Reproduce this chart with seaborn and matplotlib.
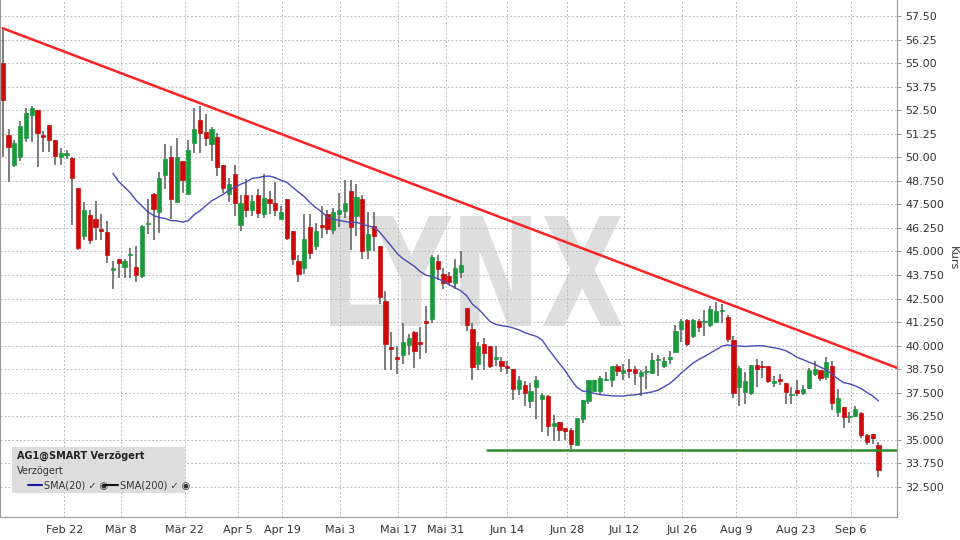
import numpy as np
import pandas as pd
import seaborn as sns
import matplotlib.pyplot as plt
from matplotlib.patches import Rectangle, PathPatch
from matplotlib.textpath import TextPath
from matplotlib.font_manager import FontProperties
from matplotlib.transforms import Affine2D, IdentityTransform

# daily candles (price in EUR)
opens = [55.0, 51.2, 49.6, 50.04, 51.04, 52.25, 52.5, 51.2, 51.7, 50.9,
         50.04, 50.1, 49.95, 48.36, 45.83, 46.94, 46.7, 46.2, 46.02, 44.0,
         44.6, 44.2, 44.8, 44.2, 43.67, 46.45, 48.05, 47.1, 49.06, 50.0,
         47.6, 49.8, 48.05, 50.74, 51.98, 51.36, 50.7, 51.1, 49.6, 48.05,
         49.1, 46.4, 48.0, 47.2, 48.0, 47.0, 47.8, 47.56, 46.7, 47.77,
         46.1, 44.5, 44.1, 46.3, 45.3, 46.4, 47.0, 46.14, 47.0, 47.17,
         48.2, 46.9, 47.8, 45.08, 46.37, 45.3, 42.37, 39.9, 39.4, 39.5,
         40.04, 40.7, 40.2, 41.3, 41.4, 44.5, 43.8, 43.7, 43.3, 43.9,
         42.0, 40.9, 39.03, 40.1, 39.98, 39.3, 39.2, 38.94, 38.75, 37.7,
         37.9, 37.08, 37.8, 37.15, 37.35, 35.75, 35.93, 35.6, 35.52, 34.7,
         36.1, 37.06, 37.6, 37.6, 38.15, 38.2, 38.9, 38.53, 38.75, 38.75,
         38.4, 38.6, 38.55, 39.24, 38.93, 39.3, 39.68, 40.9, 41.36, 40.5,
         41.33, 41.25, 41.1, 41.27, 41.85, 41.54, 40.3, 37.8, 37.56, 37.47,
         38.97, 38.9, 38.9, 38.0, 38.23, 38.0, 37.36, 37.65, 37.5, 37.74,
         38.5, 38.7, 38.35, 38.9, 36.5, 36.76, 36.2, 36.27, 36.4, 35.26,
         35.3, 34.73]
closes = [53.05, 50.57, 50.74, 51.66, 52.37, 52.6, 51.27, 51.1, 50.9, 50.07,
          50.2, 50.2, 48.9, 45.17, 47.2, 45.6, 46.3, 46.1, 44.8, 44.1,
          44.4, 44.5, 44.8, 43.75, 46.35, 46.5, 47.25, 48.9, 49.9, 47.8,
          50.0, 48.8, 50.4, 51.5, 51.27, 51.0, 51.5, 49.5, 48.35, 48.6,
          47.56, 47.56, 47.2, 47.7, 47.06, 47.86, 47.56, 47.2, 47.07, 45.7,
          44.6, 43.8, 45.65, 44.94, 46.1, 46.3, 46.2, 47.1, 47.2, 47.56,
          46.3, 47.9, 45.04, 45.9, 45.8, 42.6, 40.1, 39.8, 39.3, 40.2,
          40.4, 39.7, 40.1, 41.2, 44.7, 44.05, 43.3, 43.4, 44.1, 44.3,
          41.1, 38.85, 39.98, 39.6, 38.92, 39.4, 38.92, 38.83, 37.7, 38.2,
          37.47, 37.6, 38.2, 37.4, 35.75, 35.88, 35.5, 35.45, 34.8, 36.15,
          37.1, 38.2, 38.2, 38.3, 38.2, 38.9, 38.66, 38.7, 38.67, 38.53,
          38.6, 38.6, 39.24, 39.3, 39.2, 39.4, 40.8, 41.3, 40.1, 41.36,
          41.0, 41.3, 41.93, 41.84, 41.9, 40.34, 37.47, 38.8, 38.1, 38.97,
          38.75, 38.85, 38.1, 38.1, 38.1, 37.56, 37.45, 37.47, 37.7, 38.7,
          38.75, 38.27, 39.15, 36.94, 37.2, 36.23, 36.25, 36.62, 35.26, 34.87,
          35.1, 33.4]
highs = [56.85, 51.49, 50.9, 51.9, 52.6, 52.7, 52.5, 51.4, 51.7, 50.9,
         50.5, 50.4, 50.0, 48.36, 47.6, 47.2, 47.7, 47.0, 46.6, 44.5,
         44.6, 44.6, 45.2, 45.3, 46.4, 47.8, 48.1, 49.2, 50.7, 50.6,
         51.0, 49.8, 50.9, 52.6, 52.7, 52.3, 51.6, 51.3, 49.6, 48.9,
         49.6, 48.0, 48.85, 48.0, 48.3, 49.1, 48.2, 48.7, 47.4, 47.77,
         46.1, 44.8, 47.0, 47.0, 46.5, 47.4, 47.2, 47.3, 48.1, 48.8,
         48.8, 48.6, 48.0, 47.1, 47.1, 45.3, 42.9, 40.7, 40.0, 41.2,
         40.6, 40.8, 41.0, 42.1, 44.8, 44.8, 44.1, 43.9, 44.6, 45.0,
         42.0, 41.2, 40.2, 40.4, 40.0, 40.0, 39.4, 39.2, 38.75, 38.4,
         38.1, 38.0, 38.4, 37.5, 37.4, 36.3, 35.93, 35.6, 35.6, 36.15,
         37.1, 38.2, 38.2, 38.4, 38.6, 38.9, 39.0, 39.0, 39.3, 38.9,
         38.7, 38.9, 39.6, 39.5, 39.4, 39.7, 41.1, 41.4, 41.4, 41.4,
         41.4, 41.9, 42.1, 42.3, 42.2, 41.6, 40.5, 38.9, 38.6, 38.97,
         39.3, 39.2, 38.9, 38.4, 38.5, 38.0, 37.8, 38.2, 37.9, 38.8,
         39.2, 38.7, 39.4, 39.2, 37.7, 36.76, 36.5, 36.8, 36.5, 35.3,
         35.3, 34.9]
lows = [50.04, 48.7, 49.5, 49.8, 50.8, 50.8, 49.5, 50.3, 50.3, 49.6,
        49.6, 49.9, 46.4, 45.1, 45.6, 45.4, 45.6, 45.6, 44.4, 43.0,
        43.6, 43.6, 43.6, 43.4, 43.6, 45.9, 45.6, 46.0, 48.3, 46.7,
        47.6, 48.1, 48.05, 50.2, 50.2, 50.6, 49.8, 49.0, 48.1, 47.6,
        46.9, 46.1, 46.85, 46.9, 46.8, 46.8, 47.0, 46.9, 46.7, 45.6,
        44.3, 43.4, 43.8, 44.6, 45.1, 45.7, 45.9, 45.9, 46.3, 46.8,
        45.1, 45.8, 44.6, 44.6, 45.0, 42.2, 38.7, 38.7, 38.5, 39.0,
        39.5, 38.8, 39.3, 39.6, 41.2, 43.5, 43.0, 43.2, 43.0, 43.6,
        40.8, 38.2, 38.7, 38.7, 38.8, 38.9, 38.6, 38.5, 37.1, 37.4,
        36.8, 36.7, 36.1, 35.4, 35.2, 34.95, 34.95, 35.0, 34.5, 34.7,
        35.9, 36.9, 37.6, 37.4, 38.1, 37.8, 38.4, 38.2, 38.3, 37.9,
        37.3, 37.7, 38.5, 38.4, 38.8, 39.0, 39.6, 40.2, 40.0, 40.4,
        40.7, 40.5, 41.0, 41.2, 41.2, 40.2, 37.2, 36.8, 36.9, 37.4,
        37.8, 38.3, 38.0, 37.8, 37.9, 36.9, 36.9, 37.3, 37.4, 37.7,
        38.4, 38.1, 38.2, 36.6, 36.2, 35.6, 35.9, 36.2, 35.1, 34.7,
        34.8, 33.0]

date_labels = ["Feb 22", "Mär 8", "Mär 22", "Apr 5", "Apr 19", "Mai 3", "Mai 17",
               "Mai 31", "Jun 14", "Jun 28", "Jul 12", "Jul 26", "Aug 9", "Aug 23", "Sep 6"]
date_pos = [10.6, 20.4, 31.4, 40.6, 48.2, 58.2, 68.2, 76.4, 86.9, 97.3,
            107.1, 117.1, 126.4, 136.8, 146.3]

y_ticks = [57.5, 56.25, 55.0, 53.75, 52.5, 51.25, 50.0, 48.75, 47.5, 46.25,
           45.0, 43.75, 42.5, 41.25, 40.0, 38.75, 37.5, 36.25, 35.0, 33.75, 32.5]
y_labels = ["57.50", "56.25", "55.00", "53.75", "52.50", "51.25", "50.00",
            "48.750", "47.500", "46.250", "45.000", "43.750", "42.500", "41.250",
            "40.000", "38.750", "37.500", "36.250", "35.000", "33.750", "32.500"]

# trend line (resistance) and support line
trend_x = [0, 154.2]
trend_y = [56.85, 38.82]
support_x = [83.5, 154.2]
support_y = [34.46, 34.46]

df = pd.DataFrame({"open": opens, "close": closes, "high": highs, "low": lows})
df["idx"] = np.arange(len(df))
df["sma20"] = df["close"].rolling(20).mean()

sns.set_style("white")
fig = plt.figure(figsize=(9.6, 5.4), dpi=100)
ax = fig.add_axes([0.0, 1 - 517 / 540, 897 / 960, 517 / 540])

green = "#1a9a3c"
red = "#cc0a0a"

# watermark, squeezed to the narrow look of the original
tp = TextPath((0, 0), "LYNX", size=1, prop=FontProperties(family="DejaVu Sans", weight="bold"))
ext = tp.get_extents()
sx = 292 / ext.width
sy = 110 / ext.height
wm = Affine2D().translate(-ext.x0, -ext.y0).scale(sx, sy).translate(330, 540 - 326)
ax.add_patch(PathPatch(tp, transform=wm + IdentityTransform(), facecolor="#dedede",
                       edgecolor="none", zorder=0))

for _, r in df.iterrows():
    up = r["close"] >= r["open"]
    c = green if up else red
    ax.vlines(r["idx"], r["low"], r["high"], color="#666666", lw=1.2, zorder=2)
    lo, hi = min(r["open"], r["close"]), max(r["open"], r["close"])
    ax.add_patch(Rectangle((r["idx"] - 0.36, lo), 0.72, max(hi - lo, 0.06),
                           facecolor=c, edgecolor=c, lw=0.5, zorder=3))

sns.lineplot(data=df, x="idx", y="sma20", ax=ax, color="#4a4ab8", lw=1.0, zorder=4)
ax.plot(trend_x, trend_y, color="#ff2222", lw=1.8, zorder=5)
ax.plot(support_x, support_y, color="#2e8b2e", lw=1.8, zorder=5)

ax.set_xlim(-0.47, 154.2)
ax.set_ylim(30.9, 58.35)
ax.set_xticks(date_pos)
ax.set_xticklabels(date_labels, fontsize=8, color="#333333")
ax.set_yticks(y_ticks)
ax.set_yticklabels(y_labels, fontsize=8, color="#333333")
ax.yaxis.tick_right()
ax.yaxis.set_label_position("right")
ax.set_ylabel("Kurs", rotation=270, fontsize=8, color="#333333", labelpad=10)
ax.set_xlabel("")
ax.tick_params(axis="both", length=3, color="#999999", pad=3)
ax.grid(True, color="#bbbbbb", ls=(0, (2, 2)), lw=0.7)
ax.spines["top"].set_visible(False)
for s in ["bottom", "right", "left"]:
    ax.spines[s].set_color("#999999")

# legend box
ax.add_patch(Rectangle((12 / 897, (517 - 493) / 517), 173 / 897, 46 / 517,
                       transform=ax.transAxes, facecolor="#dddddd", edgecolor="none", zorder=6))
ax.text(17 / 897, (517 - 456) / 517, "AG1@SMART Verzögert", transform=ax.transAxes,
        fontsize=7, fontweight="bold", va="center", zorder=7, color="#222222")
ax.text(17 / 897, (517 - 471) / 517, "Verzögert", transform=ax.transAxes,
        fontsize=7, va="center", zorder=7, color="#333333")
ax.plot([28 / 897, 42 / 897], [(517 - 485) / 517] * 2, transform=ax.transAxes,
        color="#1a1aa0", lw=1.5, zorder=7)
ax.text(44 / 897, (517 - 485) / 517, "SMA(20) \u2713 \u25c9", transform=ax.transAxes,
        fontsize=7, va="center", zorder=7, color="#333333")
ax.plot([104 / 897, 118 / 897], [(517 - 485) / 517] * 2, transform=ax.transAxes,
        color="#111111", lw=1.5, zorder=7)
ax.text(120 / 897, (517 - 485) / 517, "SMA(200) \u2713 \u25c9", transform=ax.transAxes,
        fontsize=7, va="center", zorder=7, color="#333333")

fig.savefig("out.png", dpi=100)
